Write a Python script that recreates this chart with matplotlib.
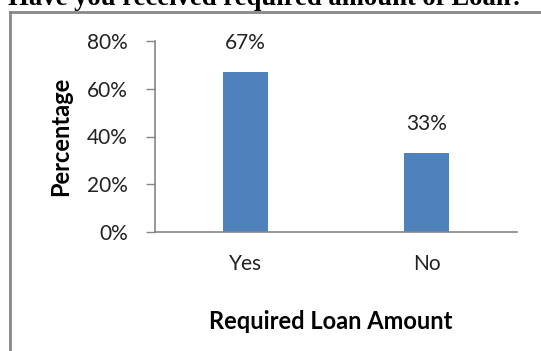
import matplotlib.pyplot as plt
from matplotlib.ticker import PercentFormatter

categories = ['Yes', 'No']
percent = [67, 33]
yticks = [0, 20, 40, 60, 80]

plt.rcParams['font.family'] = ['Lato', 'DejaVu Sans']

fig = plt.figure(figsize=(5.41, 3.51), dpi=100)
ax = fig.add_axes([155 / 541, 1 - 232 / 351, 362 / 541, 191 / 351])

x = range(len(categories))
bars = ax.bar(x, percent, width=0.253, color='#4F81BD')
for rect, v in zip(bars, percent):
    ax.annotate(f'{v}%', (rect.get_x() + rect.get_width() / 2, v),
                xytext=(0, 14), textcoords='offset points',
                ha='center', va='bottom', fontsize=15, color='#222222')

ax.set_xlim(-0.5, 1.5)
ax.set_ylim(0, 80)
ax.set_yticks(yticks)
ax.yaxis.set_major_formatter(PercentFormatter(decimals=0))
ax.set_xticks(list(x))
ax.set_xticklabels(categories)

ax.tick_params(axis='y', length=6.5, width=1, color='#868686', pad=13,
               labelsize=15, labelcolor='#222222')
ax.tick_params(axis='x', length=0, pad=16, labelsize=15, labelcolor='#222222')

for side in ['top', 'right']:
    ax.spines[side].set_visible(False)
for side in ['left', 'bottom']:
    ax.spines[side].set_color('#868686')
    ax.spines[side].set_linewidth(1.2)

ax.set_xlabel('Required Loan Amount', fontsize=17, fontweight='bold')
ax.xaxis.set_label_coords(0.486, -0.471)
ax.xaxis.label.set_va('center')
ax.set_ylabel('Percentage', fontsize=17, fontweight='bold')
ax.yaxis.set_label_coords(-0.262, 0.5)
ax.yaxis.label.set_va('center')

# outer frame of the chart (only top and left edges show)
fig.add_artist(plt.Line2D([9.5 / 541, 1], [1 - 11.5 / 351, 1 - 11.5 / 351],
                          transform=fig.transFigure, color='#888888', lw=2))
fig.add_artist(plt.Line2D([9.5 / 541, 9.5 / 541], [0, 1 - 11.5 / 351],
                          transform=fig.transFigure, color='#888888', lw=2))

fig.text(266 / 541, 1 - 5 / 351, 'Have you received required amount of Loan?',
         ha='center', va='baseline', fontsize=19.2, fontweight='bold',
         family='Liberation Serif')

fig.savefig('out.png', dpi=100)
